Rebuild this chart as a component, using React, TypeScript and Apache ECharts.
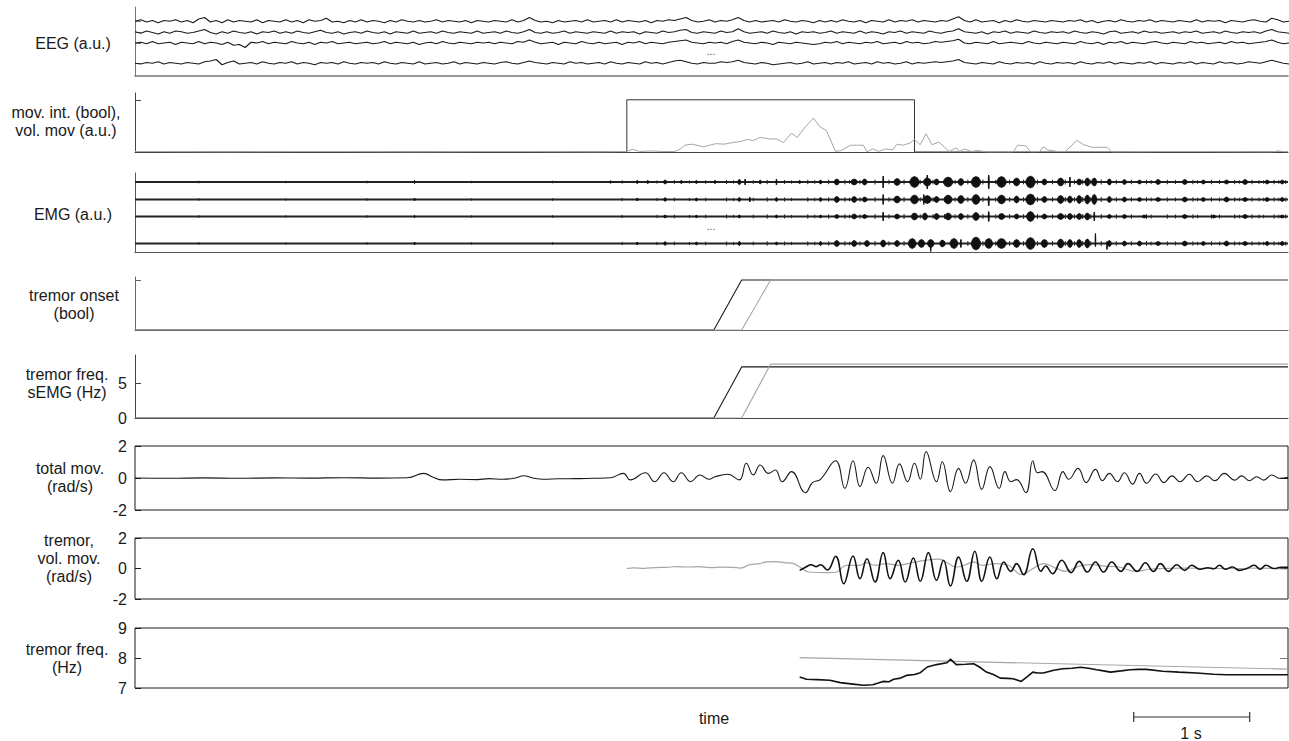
import React, { useEffect, useRef } from "react";
import * as echarts from "echarts";

// ---------- DATA ----------
const T_MAX = 9.94; // seconds shown
const EEG_DT = 0.05;
const EEG_OFFSETS = [73, 58, 44, 17]; // channel baselines (a.u.)
const EEG_1 = [
  0, 2, -1, 1, -2, 1, 0, 2, -1, 1, -2, 3, 5, -1, 1, -2, 2, -1, 1, 0,
  -1, 2, -2, 1, 0, -1, 2, -1, 1, -2, 2, 0, 1, 4, -1, 0, -2, 1, -1, 2,
  -1, 1, 0, -2, 1, -1, 2, 0, -1, 1, -1, 0, 2, -1, 1, 0, -1, 1, -2, 1,
  0, -1, 1, 0, -1, 2, -1, 1, 5, 1, -1, 0, -2, 1, -1, 0, 1, -1, 2, -1,
  0, 1, -1, 2, -1, 1, 0, -1, 1, -2, 1, 0, 2, 1, 3, 5, 1, -1, 0, 2,
  -1, 1, 0, 2, 5, 1, -1, 1, -1, 0, 1, -1, 2, 0, -1, 1, 0, -2, 1, -1,
  1, -1, 2, 0, -1, 1, -2, 1, 0, -1, 2, -1, 1, 0, 2, -1, 1, 0, -1, 1,
  0, 3, 6, 1, -1, 2, -1, 0, 1, -2, 1, -1, 2, 0, -1, 1, 0, -1, 1, 0,
  -1, 1, 0, 2, -1, 1, -2, 0, 1, -1, 2, 0, -1, 1, 0, 2, -1, 1, 0, -1,
  1, 0, -1, 2, -1, 1, 0, 1, -2, 1, 0, -1, 1, 2, 0, -1, 4, 2, -1, 0,
];
const EEG_2 = [
  1, -1, 2, 0, -2, 1, -1, 2, 1, -1, 0, 2, 4, 0, -2, 1, -1, 2, 0, -1,
  1, -2, 1, 0, 2, -1, 1, -1, 2, 0, -1, 1, 3, 0, -1, 1, -2, 0, 1, -1,
  2, 0, -1, 1, -2, 1, 0, -1, 2, -1, 0, 1, -1, 2, 0, -1, 1, 0, -1, 2,
  -1, 0, 1, -1, 2, 0, -1, 1, 4, 0, -1, 1, -1, 0, 2, -1, 1, 0, -1, 1,
  0, -1, 2, -1, 1, 0, 1, -2, 1, 0, -1, 2, 0, 1, 3, 4, 0, -1, 1, 0,
  -1, 2, 0, 1, 5, 1, -1, 0, 1, -1, 2, 0, -1, 1, -2, 1, 0, 1, -1, 0,
  2, -1, 1, 0, -1, 2, -1, 1, 0, -2, 1, 0, 2, -1, 1, 0, -1, 2, 0, -1,
  1, 2, 5, 1, 0, -1, 1, -2, 1, 0, 2, -1, 1, 0, -1, 2, 0, -1, 1, 0,
  1, -1, 2, 0, -1, 1, 0, -2, 1, 2, -1, 0, 1, -1, 2, 0, 1, -1, 0, 1,
  -1, 1, 0, 2, -1, 0, 1, -1, 2, 0, -1, 1, 0, 1, -1, 2, 4, 1, 0, -1,
];
const EEG_3 = [
  0, 1, -1, 2, -1, 0, 1, -2, 1, 0, -1, 2, -1, 1, 0, -2, 1, -3, -2, -6,
  1, 0, 2, -1, 1, 0, -1, 2, 0, -1, 1, -2, 1, 0, 2, -1, 0, 1, -1, 0,
  1, -1, 0, 2, -1, 1, 0, -1, 1, -2, 0, 1, -1, 2, 0, -1, 1, 0, -1, 1,
  0, 1, -1, 1, 0, -1, 2, 1, 4, 1, -1, 0, 1, -2, 1, 0, -1, 2, 0, -1,
  1, -1, 0, 1, -2, 1, 0, 2, -1, 1, 0, -1, 1, 2, 3, 4, 1, 0, -1, 1,
  0, 1, -1, 2, 4, 1, 0, -1, 1, 0, -2, 1, 0, -1, 1, 0, -1, -2, -1, 1,
  0, 2, -1, 1, 0, -1, 1, 0, 2, -1, 0, 1, -1, 2, 0, 1, -1, 0, 2, 1,
  2, 3, 5, 0, -1, 1, 0, -1, 2, -1, 0, 1, 0, -1, 2, 0, -1, 1, 0, -1,
  1, 0, -1, 2, 0, -1, 1, -2, 1, 0, 2, -1, 1, 0, -1, 1, 2, 0, -1, 1,
  0, -1, 2, 0, 1, -1, 0, 1, -1, 2, 0, 1, -1, 0, 1, 2, 4, 1, -1, 0,
];
const EEG_4 = [
  0, -1, 1, 0, 2, -1, 1, 0, -1, 1, 0, -1, 2, 3, 5, -2, 1, 3, -1, 0,
  1, -1, 2, 0, -1, 1, 0, 2, -1, 1, 0, -2, 1, 0, 1, -1, 2, 0, -1, 1,
  0, 1, -1, 2, 0, -1, 1, 0, -1, 2, -1, 0, 1, -1, 0, 2, -1, 1, 0, -1,
  1, 0, -1, 1, 2, 0, -1, 1, 3, 1, 0, -1, 1, 0, -1, 2, 0, 1, -1, 0,
  1, -1, 2, 0, -1, 1, 0, -1, 2, 0, 1, -1, 1, 3, 4, 2, 0, -1, 1, 0,
  0, 2, 1, 2, 4, 1, 0, -1, 1, 0, -2, -1, 0, 1, -1, 0, 2, -1, 0, 1,
  -1, 1, 0, 2, -1, 0, 1, -1, 2, 0, 1, -1, 0, 2, -1, 1, 0, 1, 2, 1,
  2, 3, 5, 1, 0, -1, 1, 0, -1, 2, 0, -1, 1, 0, 1, -1, 2, 0, -1, 1,
  0, 1, -1, 2, 0, -1, 1, 0, 2, -1, 1, 0, -1, 1, 0, 2, -1, 1, 0, -1,
  1, 0, 2, -1, 1, 0, -1, 2, 0, 1, -1, 0, 2, 1, 0, 2, 4, 2, 0, -1,
];

const MOV_INTENTION = [[0, 0], [4.24, 0], [4.24, 1], [6.72, 1], [6.72, 0], [T_MAX, 0]];
const VOL_MOV_AU = [
  [0, 0.01], [0.8, 0], [1.6, 0.01], [2.4, 0], [3.2, 0.01], [4.0, 0], [4.24, 0.01], [4.29, 0.05], [4.35, 0.01],
  [4.45, 0.02], [4.55, 0.01], [4.65, 0.01], [4.69, 0.04], [4.74, 0.13], [4.8, 0.15], [4.9, 0.1], [5.01, 0.16],
  [5.08, 0.15], [5.15, 0.18], [5.22, 0.2], [5.28, 0.24], [5.33, 0.22], [5.39, 0.28], [5.47, 0.25], [5.53, 0.25],
  [5.59, 0.18], [5.66, 0.36], [5.71, 0.28], [5.77, 0.46], [5.85, 0.65], [5.9, 0.49], [5.96, 0.41], [6.04, 0.01],
  [6.09, 0.03], [6.17, 0.13], [6.22, 0.13], [6.28, 0.13], [6.31, 0], [6.36, 0.06], [6.41, 0.01], [6.47, 0.06],
  [6.53, 0.04], [6.57, 0.15], [6.62, 0.13], [6.68, 0.17], [6.72, 0.24], [6.77, 0.14], [6.82, 0.35], [6.87, 0.14],
  [6.93, 0.19], [6.98, 0.09], [7.02, 0.01], [7.08, 0.08], [7.11, 0.01], [7.15, 0.06], [7.21, 0.01], [7.27, 0.03],
  [7.34, 0], [7.57, 0], [7.61, 0.13], [7.68, 0.12], [7.72, 0], [7.8, 0.01], [7.83, 0.1], [7.87, 0.04], [7.95, 0.01],
  [8.02, 0.01], [8.12, 0.22], [8.18, 0.14], [8.25, 0.09], [8.38, 0.09], [8.42, 0], [9.0, 0.01], [9.8, 0], [9.85, 0.02], [T_MAX, 0],
];

const EMG_OFFSETS = [70, 52.5, 35.5, 8.5];
// bursts: [time (s), upward amplitude, downward amplitude, half width (s)]
const EMG_1 = [
  [2.41, 1.5, 1.5, 0.004], [4.1, 1.2, 1.2, 0.01], [4.33, 1.5, 1.5, 0.01], [4.42, 1.5, 1.5, 0.01], [4.57, 2, 2, 0.015],
  [4.71, 1.5, 1.5, 0.01], [4.84, 1.5, 1.5, 0.01], [5.0, 1.5, 1.5, 0.01], [5.21, 2.5, 2.5, 0.015], [5.26, 3, 3, 0.004],
  [5.39, 2, 2, 0.01], [5.53, 3, 3, 0.004], [5.73, 1.5, 1.5, 0.01], [5.91, 2, 2, 0.012], [6.05, 3, 3, 0.022],
  [6.2, 3, 3, 0.028], [6.29, 3, 3, 0.022], [6.45, 6, 6, 0.004], [6.57, 3.5, 3.5, 0.028], [6.72, 5.5, 5.5, 0.04],
  [6.83, 7, 7, 0.005], [6.83, 4, 4, 0.034], [6.91, 3, 3, 0.022], [7.01, 5, 5, 0.04], [7.12, 3.5, 3.5, 0.025],
  [7.25, 5.5, 5.5, 0.04], [7.36, 7, 7, 0.005], [7.47, 5.5, 5.5, 0.04], [7.6, 4, 4, 0.028], [7.72, 6, 6, 0.04],
  [7.84, 3, 3, 0.022], [7.98, 4, 4, 0.028], [8.06, 5, 5, 0.004], [8.14, 3, 3, 0.022], [8.21, 4, 4, 0.022],
  [8.27, 4, 4, 0.022], [8.4, 3, 3, 0.018], [8.53, 2.5, 2.5, 0.018], [8.66, 2, 2, 0.018], [8.82, 2.5, 2.5, 0.022],
  [9.05, 2.5, 2.5, 0.022], [9.21, 2, 2, 0.018], [9.41, 2, 2, 0.022], [9.57, 2.5, 2.5, 0.022], [9.76, 2, 2, 0.018], [9.89, 2, 2, 0.018],
];
const EMG_2 = [
  [2.41, 1.5, 1.5, 0.004], [4.33, 1.2, 1.2, 0.01], [4.57, 1.8, 1.8, 0.012], [4.84, 1.5, 1.5, 0.01], [5.21, 2, 2, 0.012],
  [5.3, 2.5, 2.5, 0.004], [5.53, 2, 2, 0.01], [5.91, 2, 2, 0.012], [6.05, 3, 3, 0.022], [6.2, 3, 3, 0.022],
  [6.29, 2.5, 2.5, 0.022], [6.45, 5, 5, 0.004], [6.57, 3.5, 3.5, 0.028], [6.72, 4.5, 4.5, 0.034], [6.8, 5, 5, 0.004],
  [6.83, 4, 4, 0.034], [6.91, 3, 3, 0.022], [7.01, 4.5, 4.5, 0.034], [7.12, 4, 4, 0.028], [7.25, 5, 5, 0.034],
  [7.36, 3, 6.5, 0.005], [7.47, 4.5, 4.5, 0.034], [7.6, 3.5, 3.5, 0.022], [7.72, 5.5, 5.5, 0.04], [7.84, 3, 3, 0.022],
  [7.98, 4, 4, 0.028], [8.06, 3.5, 3.5, 0.022], [8.14, 4, 4, 0.022], [8.21, 4.5, 4.5, 0.022], [8.27, 5, 5, 0.022],
  [8.4, 3, 3, 0.018], [8.53, 2.5, 2.5, 0.018], [8.66, 2, 2, 0.018], [8.82, 2, 2, 0.022], [9.05, 2.5, 2.5, 0.022],
  [9.21, 2, 2, 0.018], [9.41, 2.5, 2.5, 0.022], [9.57, 2, 2, 0.022], [9.76, 2, 2, 0.018], [9.89, 2, 2, 0.018],
];
const EMG_3 = [
  [2.41, 1.2, 1.2, 0.004], [4.57, 1.5, 1.5, 0.012], [4.84, 1.2, 1.2, 0.01], [5.21, 1.5, 1.5, 0.01], [5.53, 1.5, 1.5, 0.01],
  [5.91, 1.5, 1.5, 0.01], [6.05, 2, 2, 0.018], [6.2, 2.5, 2.5, 0.022], [6.29, 2, 2, 0.022], [6.45, 4.5, 4.5, 0.004],
  [6.57, 2.5, 2.5, 0.022], [6.72, 3.5, 3.5, 0.028], [6.81, 3.5, 3.5, 0.022], [6.91, 3, 3, 0.022], [7.01, 3.5, 3.5, 0.028],
  [7.12, 3, 3, 0.022], [7.25, 4, 4, 0.028], [7.36, 5, 5, 0.005], [7.47, 3, 3, 0.028], [7.6, 2.5, 2.5, 0.022],
  [7.72, 5, 5, 0.034], [7.84, 2.5, 2.5, 0.022], [7.98, 3, 3, 0.028], [8.06, 3, 3, 0.022], [8.14, 3, 3, 0.022],
  [8.21, 3.5, 3.5, 0.022], [8.27, 4.5, 4.5, 0.004], [8.4, 2, 2, 0.018], [8.53, 2, 2, 0.018], [8.7, 1.5, 1.5, 0.018],
  [9.05, 2, 2, 0.022], [9.3, 1.5, 1.5, 0.018], [9.57, 2, 2, 0.022], [9.89, 1.5, 1.5, 0.018],
];
const EMG_4 = [
  [2.41, 1.5, 1.5, 0.004], [4.33, 1.2, 1.2, 0.01], [4.57, 1.8, 1.8, 0.012], [4.84, 1.5, 1.5, 0.01], [5.21, 2, 2, 0.012],
  [5.53, 1.5, 1.5, 0.01], [5.91, 2, 2, 0.012], [6.05, 3, 3, 0.022], [6.2, 3, 3, 0.022], [6.31, 3, 3, 0.022],
  [6.45, 3.5, 3.5, 0.022], [6.57, 3, 3, 0.022], [6.7, 5, 5, 0.034], [6.78, 4, 4, 0.028], [6.86, 3, 8, 0.004],
  [6.86, 4, 4, 0.028], [6.96, 3.5, 3.5, 0.022], [7.06, 5, 5, 0.034], [7.12, 4, 4, 0.005], [7.25, 6.5, 6.5, 0.04],
  [7.36, 5, 5, 0.034], [7.47, 5, 5, 0.04], [7.6, 4, 4, 0.028], [7.72, 6, 6, 0.04], [7.84, 4, 4, 0.028],
  [7.98, 4.5, 4.5, 0.028], [8.06, 4, 4, 0.022], [8.14, 4, 4, 0.022], [8.21, 4.5, 4.5, 0.022], [8.28, 10, 3, 0.004],
  [8.38, 2, 6, 0.004], [8.4, 3, 3, 0.018], [8.53, 2.5, 2.5, 0.018], [8.66, 2.5, 2.5, 0.018], [8.82, 2, 2, 0.022],
  [9.05, 2.5, 2.5, 0.022], [9.21, 2, 2, 0.018], [9.41, 2.5, 2.5, 0.022], [9.57, 2, 2, 0.022], [9.76, 2, 2, 0.018], [9.89, 2, 2, 0.018],
];
// low-level activity seen on all EMG channels: [time (s), amplitude]
const EMG_SMALL = [
  [0.55, 1.3], [1.3, 1.2], [2.0, 1.3], [2.9, 1.2], [3.6, 1.3], [4.2, 1.6], [4.5, 1.6], [4.65, 1.8], [4.78, 1.6], [4.92, 1.8],
  [5.1, 2], [5.16, 1.6], [5.33, 1.8], [5.45, 2.2], [5.6, 2], [5.66, 1.6], [5.8, 2.2], [5.86, 1.8], [5.98, 2.2],
  [6.12, 2.3], [6.16, 1.8], [6.25, 2.2], [6.38, 2.5], [6.5, 2.3], [6.63, 2.5], [6.77, 2.2], [6.88, 2.3], [6.98, 2.5],
  [7.07, 2.2], [7.18, 2.5], [7.31, 2.5], [7.42, 2.2], [7.54, 2.5], [7.66, 2.3], [7.78, 2.5], [7.91, 2.3], [8.02, 2.5],
  [8.1, 2.3], [8.17, 2.5], [8.24, 2.3], [8.33, 2.5], [8.46, 2.3], [8.59, 2.2], [8.72, 2.3], [8.76, 2], [8.9, 2.2],
  [8.97, 2], [9.12, 2.2], [9.16, 1.8], [9.28, 2.2], [9.35, 2], [9.48, 2.2], [9.52, 1.8], [9.63, 2.2], [9.69, 2],
  [9.73, 1.8], [9.82, 2.2], [9.86, 1.8], [9.92, 2],
];

const ONSET_EMG = [[0, 0], [4.99, 0], [5.23, 1], [T_MAX, 1]];
const ONSET_IMU = [[0, 0], [5.23, 0], [5.48, 1], [T_MAX, 1]];
const FREQ_SEMG_1 = [[0, 0], [4.99, 0], [5.23, 7.3], [T_MAX, 7.3]];
const FREQ_SEMG_2 = [[0, 0], [5.23, 0], [5.48, 7.7], [T_MAX, 7.7]];

const TOTAL_MOV = [
  [0, 0], [0.3, -0.02], [0.6, 0.01], [0.9, -0.02], [1.2, 0.01], [1.5, -0.01], [1.8, 0.02], [2.1, -0.01], [2.35, 0.02],
  [2.49, 0.29], [2.57, 0.05], [2.65, -0.12], [2.8, -0.08], [2.95, -0.1], [3.05, -0.04], [3.17, -0.08], [3.28, 0],
  [3.35, 0.14], [3.43, 0], [3.52, -0.08], [3.65, -0.05], [3.8, -0.04], [3.95, -0.02], [4.1, 0.02], [4.21, 0.29],
  [4.27, -0.12], [4.4, 0.33], [4.48, -0.23], [4.56, 0.33], [4.64, -0.23], [4.71, 0.33], [4.79, -0.23], [4.87, 0.19],
  [4.95, -0.08], [5.0, 0.08], [5.11, 0.23], [5.21, -0.12], [5.27, 0.92], [5.33, 0.19], [5.39, 0.81], [5.46, 0.29],
  [5.52, 0.5], [5.58, -0.23], [5.66, 0.4], [5.78, -0.92], [5.84, -0.29], [5.91, -0.08], [6.04, 1.08], [6.12, -0.65],
  [6.19, 1.08], [6.25, -0.54], [6.32, 0.67], [6.39, -0.33], [6.45, 1.4], [6.53, -0.33], [6.59, 0.88], [6.66, -0.23],
  [6.72, 0.92], [6.77, -0.08], [6.82, 1.65], [6.91, -0.23], [6.96, 1.02], [7.03, -0.85], [7.1, 0.6], [7.16, -0.33],
  [7.23, 1.13], [7.3, -0.71], [7.37, 0.71], [7.45, -0.65], [7.5, 0.4], [7.55, -0.23], [7.6, -0.1], [7.68, -0.92],
  [7.74, 1.08], [7.78, 0.33], [7.82, 0.4], [7.93, -0.79], [8.0, 0.4], [8.05, -0.08], [8.13, 0.6], [8.2, -0.29],
  [8.28, 0.54], [8.34, -0.17], [8.4, 0.29], [8.47, -0.23], [8.53, 0.33], [8.6, -0.38], [8.66, 0.29], [8.72, -0.33],
  [8.8, 0.25], [8.87, -0.29], [8.94, 0.13], [9.01, -0.23], [9.09, 0.23], [9.16, -0.23], [9.24, 0.13], [9.31, -0.17],
  [9.39, 0.29], [9.48, -0.13], [9.54, 0.13], [9.61, -0.17], [9.67, 0.08], [9.73, -0.13], [9.8, 0.19], [9.87, -0.02], [T_MAX, 0.05],
];

const TREMOR = [
  [5.73, -0.12], [5.78, 0.08], [5.83, 0.25], [5.87, 0.12], [5.91, 0.25], [5.97, -0.1], [6.04, 0.8], [6.11, -1.0],
  [6.19, 0.82], [6.25, -0.67], [6.31, 0.64], [6.38, -0.89], [6.45, 1.04], [6.51, -0.67], [6.58, 0.54], [6.64, -0.89],
  [6.71, 0.69], [6.77, -0.84], [6.84, 1.04], [6.91, -0.78], [6.97, 0.54], [7.03, -1.15], [7.1, 0.75], [7.17, -0.84],
  [7.24, 1.13], [7.3, -0.84], [7.37, 0.75], [7.43, -0.67], [7.49, 0.43], [7.55, -0.19], [7.6, 0.32], [7.66, -0.4],
  [7.74, 1.3], [7.81, -0.19], [7.85, 0.16], [7.91, -0.34], [7.99, 0.54], [8.07, -0.27], [8.14, 0.47], [8.21, -0.23],
  [8.28, 0.43], [8.35, -0.23], [8.42, 0.43], [8.5, -0.19], [8.56, 0.32], [8.64, -0.19], [8.71, 0.38], [8.78, -0.19],
  [8.84, 0.32], [8.91, -0.19], [8.98, 0.25], [9.05, -0.12], [9.11, 0.21], [9.18, -0.05], [9.25, 0.05], [9.3, -0.02],
  [9.35, 0.21], [9.4, -0.05], [9.46, 0.1], [9.52, -0.12], [9.59, 0.02], [9.65, 0.21], [9.7, -0.05], [9.75, 0.21],
  [9.82, 0], [9.88, 0.08], [T_MAX, 0.08],
];
const VOL_MOV = [
  [4.24, 0], [4.3, 0.04], [4.39, 0.01], [4.48, 0.06], [4.58, 0.08], [4.67, 0.12], [4.77, 0.1], [4.86, 0.12],
  [4.96, 0.06], [5.05, 0.09], [5.15, 0.08], [5.22, 0.03], [5.3, 0.25], [5.37, 0.3], [5.45, 0.43], [5.52, 0.45],
  [5.6, 0.38], [5.68, 0.32], [5.73, 0.1], [5.81, -0.23], [5.98, -0.27], [6.05, -0.23], [6.13, 0.21], [6.25, 0.21],
  [6.3, 0.38], [6.38, 0.21], [6.47, 0.32], [6.58, 0.21], [6.7, 0.38], [6.81, 0.53], [6.93, 0.62], [7.0, 0.38],
  [7.08, 0.1], [7.15, 0.21], [7.23, 0.43], [7.3, 0.21], [7.42, 0.32], [7.53, 0.21], [7.64, -0.4], [7.74, -0.01],
  [7.83, 0.32], [7.95, -0.01], [8.02, -0.19], [8.14, 0.16], [8.25, 0.25], [8.36, 0.16], [8.48, 0.1], [8.63, -0.19],
  [8.74, -0.05], [8.86, 0], [9.05, 0.03], [9.31, 0], [9.5, 0], [9.69, 0.03], [T_MAX, -0.05],
];

const TREMOR_FREQ = [
  [5.73, 7.37], [5.79, 7.29], [5.88, 7.28], [5.99, 7.26], [6.08, 7.18], [6.19, 7.13], [6.28, 7.09], [6.36, 7.11],
  [6.45, 7.22], [6.5, 7.21], [6.54, 7.29], [6.6, 7.33], [6.65, 7.42], [6.72, 7.45], [6.77, 7.51], [6.83, 7.7],
  [6.91, 7.78], [7.0, 7.84], [7.03, 7.96], [7.08, 7.78], [7.16, 7.79], [7.23, 7.81], [7.28, 7.7], [7.34, 7.53],
  [7.4, 7.45], [7.46, 7.33], [7.52, 7.32], [7.57, 7.31], [7.64, 7.22], [7.69, 7.37], [7.74, 7.53], [7.78, 7.5],
  [7.83, 7.5], [7.88, 7.55], [7.92, 7.59], [8.0, 7.64], [8.08, 7.66], [8.15, 7.69], [8.22, 7.66], [8.29, 7.61],
  [8.35, 7.57], [8.41, 7.53], [8.5, 7.57], [8.58, 7.61], [8.65, 7.62], [8.72, 7.62], [8.86, 7.56], [9.0, 7.53],
  [9.15, 7.5], [9.3, 7.46], [9.41, 7.44], [9.64, 7.44], [T_MAX, 7.44],
];
const TREMOR_FREQ_REF = [[5.73, 8.01], [T_MAX, 7.63]];

const SCALE_BAR = [[8.61, 0.5], [9.61, 0.5]];

const Y_LABELS = [
  "EEG (a.u.)",
  "mov. int. (bool),\nvol. mov (a.u.)",
  "EMG (a.u.)",
  "tremor onset\n(bool)",
  "tremor freq.\nsEMG (Hz)",
  "total mov.\n(rad/s)",
  "tremor,\nvol. mov.\n(rad/s)",
  "tremor freq.\n(Hz)",
];

// ---------- LAYOUT ----------
const FONT_FAMILY = '"Liberation Sans", Arial, Helvetica, sans-serif';
const LEFT = 135;
const RIGHT = 1;
const PANELS = [
  { top: 7, h: 69 },
  { top: 93, h: 59 },
  { top: 173, h: 79 },
  { top: 277, h: 53 },
  { top: 355, h: 63 },
  { top: 446, h: 64 },
  { top: 538, h: 61 },
  { top: 628, h: 60 },
  { top: 712, h: 10 },
];
const LABEL_POS = [
  [73, 43], [66, 121.5], [73, 214], [74, 304.5], [67, 383], [70, 477], [69, 558.5], [67, 658],
];
const BLACK = "#1a1a1a";
const GRAY = "#a6a6a6";

function buildOption() {
  const grid: any[] = [];
  const xAxis: any[] = [];
  const yAxis: any[] = [];
  const series: any[] = [];

  const yCfg: any[] = [
    { min: 0, max: 92, ticks: EEG_OFFSETS, lineColor: "#777" },
    { min: 0, max: 1.13, ticks: [0, 1], lineColor: "#444" },
    { min: 0, max: 79, ticks: EMG_OFFSETS, lineColor: "#555" },
    { min: 0, max: 1.06, ticks: [0, 1], lineColor: "#666" },
    { min: 0, max: 9, ticks: [0, 5], labels: true, lineColor: "#444" },
    { min: -2, max: 2, interval: 2, labels: true, box: true },
    { min: -2, max: 2, interval: 2, labels: true, box: true },
    { min: 7, max: 9, interval: 1, labels: true, box: true },
    { min: 0, max: 1, hidden: true },
  ];

  PANELS.forEach((p, i) => {
    const c = yCfg[i];
    grid.push({
      left: LEFT,
      right: RIGHT,
      top: p.top,
      height: p.h,
      show: !!c.box,
      borderColor: BLACK,
      borderWidth: 1,
      backgroundColor: "transparent",
    });
    xAxis.push({
      type: "value",
      gridIndex: i,
      min: 0,
      max: T_MAX,
      axisLine: { show: !c.box && !c.hidden, onZero: false, lineStyle: { color: c.lineColor || BLACK, width: i === 0 ? 1.5 : 1 } },
      axisTick: { show: false },
      axisLabel: { show: false },
      splitLine: { show: false },
    });
    const tickCfg: any = { show: !c.hidden, inside: true, length: 6, lineStyle: { color: c.box ? BLACK : c.lineColor, width: 1 } };
    const labelCfg: any = {
      show: !!c.labels,
      margin: 8,
      fontSize: 16,
      fontFamily: FONT_FAMILY,
      color: BLACK,
    };
    if (c.ticks) {
      tickCfg.customValues = c.ticks;
      labelCfg.customValues = c.ticks;
    }
    yAxis.push({
      type: "value",
      gridIndex: i,
      min: c.min,
      max: c.max,
      interval: c.interval,
      position: "left",
      show: !c.hidden,
      axisLine: { show: !c.box && !c.hidden, lineStyle: { color: c.lineColor || BLACK, width: 1 } },
      axisTick: tickCfg,
      axisLabel: labelCfg,
      splitLine: { show: false },
    });
  });

  // right-side ticks for boxed panels
  const rightTicks = [
    { g: 5, v: 0, color: BLACK },
    { g: 6, v: 0, color: BLACK },
    { g: 7, v: 8, color: "#777" },
  ];
  rightTicks.forEach((r) => {
    const c = yCfg[r.g];
    yAxis.push({
      type: "value",
      gridIndex: r.g,
      min: c.min,
      max: c.max,
      position: "right",
      axisLine: { show: false },
      axisTick: { show: true, inside: true, length: 8, customValues: [r.v], lineStyle: { color: r.color, width: 1 } },
      axisLabel: { show: false },
      splitLine: { show: false },
    });
  });

  const line = (g: number, data: any[], color: string, width: number, smooth: any = false, z = 2) => ({
    type: "line",
    xAxisIndex: g,
    yAxisIndex: g,
    data,
    symbol: "none",
    showSymbol: false,
    smooth,
    clip: true,
    silent: true,
    z,
    lineStyle: { color, width },
    itemStyle: { color },
  });

  // EEG
  [EEG_1, EEG_2, EEG_3, EEG_4].forEach((arr, k) => {
    series.push(line(0, arr.map((v, i) => [i * EEG_DT, EEG_OFFSETS[k] + v]), BLACK, 1.1));
  });

  // movement intention + voluntary movement
  series.push(line(1, MOV_INTENTION, "#333", 1));
  series.push(line(1, VOL_MOV_AU, GRAY, 1, false, 3));

  // EMG
  [EMG_1, EMG_2, EMG_3, EMG_4].forEach((events, k) => {
    const off = EMG_OFFSETS[k];
    series.push(line(2, [[0, off], [T_MAX, off]], "#222", 1.8));
    series.push({
      type: "custom",
      coordinateSystem: "cartesian2d",
      xAxisIndex: 2,
      yAxisIndex: 2,
      data: EMG_SMALL,
      encode: { x: 0, y: 1 },
      silent: true,
      z: 3,
      renderItem: (_params: any, api: any) => {
        const t = api.value(0);
        const a = api.value(1);
        const p1 = api.coord([t, off + a]);
        const p2 = api.coord([t, off - a]);
        return {
          type: "line",
          shape: { x1: p1[0], y1: p1[1], x2: p2[0], y2: p2[1] },
          style: { stroke: "#222", lineWidth: 1 },
        };
      },
    });
    series.push({
      type: "custom",
      coordinateSystem: "cartesian2d",
      xAxisIndex: 2,
      yAxisIndex: 2,
      data: events,
      encode: { x: 0, y: 1 },
      silent: true,
      z: 4,
      renderItem: (_params: any, api: any) => {
        const t = api.value(0);
        const up = api.value(1);
        const dn = api.value(2);
        const w = api.value(3);
        const pts = [
          [t - w, off + up * 0.25],
          [t - w * 0.6, off + up * 0.8],
          [t, off + up],
          [t + w * 0.6, off + up * 0.8],
          [t + w, off + up * 0.25],
          [t + w, off - dn * 0.25],
          [t + w * 0.6, off - dn * 0.8],
          [t, off - dn],
          [t - w * 0.6, off - dn * 0.8],
          [t - w, off - dn * 0.25],
        ].map((q) => api.coord(q));
        const top = api.coord([t, off + up]);
        const bot = api.coord([t, off - dn]);
        return {
          type: "group",
          children: [
            { type: "polygon", shape: { points: pts }, style: { fill: "#111", stroke: "#111", lineWidth: 0.6 } },
            { type: "line", shape: { x1: top[0], y1: top[1], x2: bot[0], y2: bot[1] }, style: { stroke: "#111", lineWidth: 1 } },
          ],
        };
      },
    });
  });

  // tremor onset
  series.push(line(3, ONSET_EMG, BLACK, 1.1));
  series.push(line(3, ONSET_IMU, GRAY, 1.1, false, 3));

  // tremor frequency sEMG
  series.push(line(4, FREQ_SEMG_1, BLACK, 1.1));
  series.push(line(4, FREQ_SEMG_2, GRAY, 1.1, false, 3));

  // total movement
  series.push(line(5, TOTAL_MOV, BLACK, 1.1, 0.45));

  // tremor + voluntary movement
  series.push(line(6, VOL_MOV, GRAY, 1.2, 0.4));
  series.push(line(6, TREMOR, "#111", 1.6, 0.45, 3));

  // tremor frequency
  series.push(line(7, TREMOR_FREQ_REF, GRAY, 1.2));
  series.push(line(7, TREMOR_FREQ, "#111", 1.6, false, 3));

  // scale bar
  series.push({
    type: "line",
    xAxisIndex: 8,
    yAxisIndex: 8,
    data: SCALE_BAR,
    symbol: "rect",
    symbolSize: [1.2, 10],
    showSymbol: true,
    silent: true,
    lineStyle: { color: "#333", width: 1.2 },
    itemStyle: { color: "#333" },
  });

  const font = `16px ${FONT_FAMILY}`;
  const graphic: any[] = Y_LABELS.map((text, i) => ({
    type: "text",
    x: LABEL_POS[i][0],
    y: LABEL_POS[i][1],
    silent: true,
    style: { text, font, fill: BLACK, textAlign: "center", verticalAlign: "middle", lineHeight: 18 },
  }));
  graphic.push(
    { type: "text", x: 711, y: 51, silent: true, style: { text: "...", font: `10px ${FONT_FAMILY}`, fill: "#444", textAlign: "center", verticalAlign: "middle" } },
    { type: "text", x: 711, y: 226, silent: true, style: { text: "...", font: `10px ${FONT_FAMILY}`, fill: "#444", textAlign: "center", verticalAlign: "middle" } },
    { type: "text", x: 714, y: 718, silent: true, style: { text: "time", font, fill: BLACK, textAlign: "center", verticalAlign: "middle" } },
    { type: "text", x: 1191, y: 733, silent: true, style: { text: "1 s", font, fill: BLACK, textAlign: "center", verticalAlign: "middle" } }
  );

  return {
    animation: false,
    backgroundColor: "#ffffff",
    grid,
    xAxis,
    yAxis,
    series,
    graphic,
  };
}

export default function App() {
  const ref = useRef<HTMLDivElement>(null);
  useEffect(() => {
    if (!ref.current) return;
    const chart = echarts.init(ref.current, undefined, { renderer: "svg" });
    chart.setOption(buildOption() as any);
    return () => chart.dispose();
  }, []);
  return (
    <div
      ref={ref}
      style={{ position: "absolute", left: 0, top: 0, width: 1289, height: 741, background: "#fff" }}
    />
  );
}
